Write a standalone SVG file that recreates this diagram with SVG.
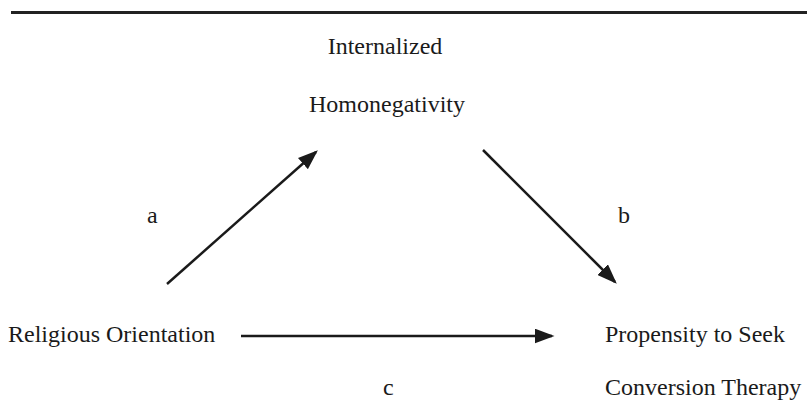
<svg xmlns="http://www.w3.org/2000/svg" width="807" height="402" viewBox="0 0 807 402">
<defs>
<style>
.t{font-family:"Liberation Serif","Times New Roman",serif;font-size:24px;fill:#1a1a1a}
.c{stroke:#1a1a1a;stroke-width:2.5;fill:none}
</style>
<marker id="ah" markerWidth="8" markerHeight="6" refX="7" refY="3" orient="auto" markerUnits="strokeWidth">
<path d="M0,0 L8,3 L0,6 Z" fill="#1a1a1a"/>
</marker>
</defs>
<rect width="807" height="402" fill="#fff"/>
<line x1="11" y1="12.5" x2="807" y2="12.5" stroke="#222" stroke-width="3"/>
<g id="node-ih">
<text class="t" x="385" y="54" text-anchor="middle">Internalized</text>
<text class="t" x="387" y="112" text-anchor="middle">Homonegativity</text>
</g>
<g id="node-ro">
<text class="t" x="8" y="342">Religious Orientation</text>
</g>
<g id="node-ps">
<text class="t" x="605" y="342">Propensity to Seek</text>
<text class="t" x="605" y="395">Conversion Therapy</text>
</g>
<g id="connectors">
<line class="c" x1="167" y1="284" x2="316" y2="152" marker-end="url(#ah)"/>
<line class="c" x1="483" y1="150" x2="615" y2="282" marker-end="url(#ah)"/>
<line class="c" x1="241" y1="336" x2="552" y2="336" marker-end="url(#ah)"/>
<text class="t" x="147" y="223">a</text>
<text class="t" x="618" y="223">b</text>
<text class="t" x="383" y="395">c</text>
</g>
</svg>
